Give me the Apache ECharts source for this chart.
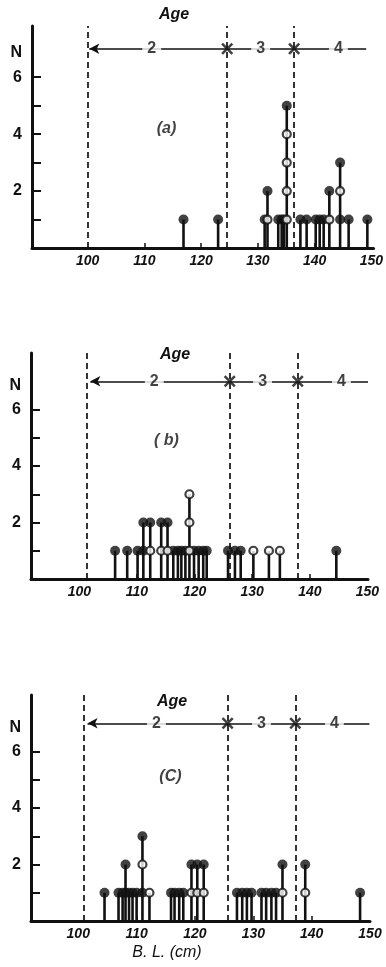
<!DOCTYPE html>
<html>
<head>
<meta charset="utf-8">
<script src="https://cdn.jsdelivr.net/npm/echarts@6/dist/echarts.min.js"></script>
<style>
  html, body { margin: 0; padding: 0; background: #fff; }
  #chart { width: 386px; height: 967px; }
</style>
</head>
<body>
<div id="chart"></div>
<script>
// body length (cm) of each stem; marks run bottom -> top, f = filled, o = open
const aPos = [116.9, 123.0, 131.2, 131.7, 133.6, 134.2, 134.6, 135.1, 137.5, 138.6, 140.2, 140.9, 141.6, 142.6, 144.5, 146.0, 149.3]
const aMarks = ['f', 'f', 'f', 'of', 'f', 'f', 'f', 'oooof', 'f', 'f', 'f', 'f', 'f', 'of', 'fof', 'f', 'f']

const bPos = [106.2, 108.3, 110.1, 111.1, 112.3, 114.2, 115.3, 116.3, 117.1, 117.7, 118.4, 119.1, 119.9, 120.7, 121.5, 122.1, 125.8, 127.0, 128.0, 130.2, 132.9, 134.8, 144.6]
const bMarks = ['f', 'f', 'f', 'ff', 'of', 'of', 'of', 'f', 'f', 'f', 'f', 'ooo', 'f', 'f', 'f', 'f', 'f', 'f', 'f', 'o', 'o', 'o', 'f']

const cPos = [104.5, 106.9, 107.6, 108.1, 108.7, 109.3, 110.0, 111.0, 112.2, 115.9, 116.5, 117.3, 118.0, 119.4, 120.4, 121.5, 127.2, 128.1, 128.9, 129.7, 131.4, 132.2, 133.1, 133.9, 135.0, 138.9, 148.3]
const cMarks = ['f', 'f', 'f', 'ff', 'f', 'f', 'f', 'fof', 'o', 'f', 'f', 'f', 'f', 'of', 'of', 'of', 'f', 'f', 'f', 'f', 'f', 'f', 'f', 'f', 'of', 'of', 'f']

// age boundaries (dashed lines), age line ends, age class labels
const aBounds = [100, 124.6, 136.4]
const bBounds = [101.2, 126.1, 137.9]
const cBounds = [101.0, 125.6, 137.2]
const aAgeEnds = [100.3, 149.1]
const bAgeEnds = [101.9, 150.1]
const cAgeEnds = [101.6, 149.9]
const ageClasses = ['2', '3', '4']
const aAgeAt = [111.3, 130.5, 144.2]
const bAgeAt = [113.0, 131.8, 145.5]
const cAgeAt = [113.4, 131.4, 143.9]

const xTickLabels = [100, 110, 120, 130, 140, 150]
const yTickLabels = [2, 4, 6]
const ageY = 7
const nY = 6.85

const ink = '#111'
const font = 'Liberation Sans'

const panels = [
  { pos: aPos, marks: aMarks, bounds: aBounds, ends: aAgeEnds, ageAt: aAgeAt, tag: '(a)', tagAt: [113.9, 4.2],
    grid: { left: 32, top: 26, width: 345, height: 222 }, xMin: 90.2, xMax: 150.4, yMax: 7.8 },
  { pos: bPos, marks: bMarks, bounds: bBounds, ends: bAgeEnds, ageAt: bAgeAt, tag: '( b)', tagAt: [115.1, 4.9],
    grid: { left: 31, top: 353, width: 337, height: 226 }, xMin: 91.6, xMax: 150.1, yMax: 8 },
  { pos: cPos, marks: cMarks, bounds: cBounds, ends: cAgeEnds, ageAt: cAgeAt, tag: '(C)', tagAt: [115.8, 5.1],
    grid: { left: 31, top: 695, width: 339, height: 226 }, xMin: 91.9, xMax: 150.0, yMax: 8 },
]

const cross = 'path://M0,1.5L1.5,0L5,3.5L8.5,0L10,1.5L6.5,5L10,8.5L8.5,10L5,6.5L1.5,10L0,8.5L3.5,5Z'

const grids = []
const xAxes = []
const yAxes = []
const series = []

panels.forEach((p, i) => {
  grids.push(p.grid)
  xAxes.push({
    type: 'value', gridIndex: i, min: p.xMin, max: p.xMax,
    splitLine: { show: false },
    axisLine: { lineStyle: { color: ink, width: 3 } },
    axisTick: { inside: true, length: 5, customValues: [110, 120, 130, 140], lineStyle: { color: ink, width: 1.5 } },
    axisLabel: { customValues: xTickLabels, color: ink, fontFamily: font, fontWeight: 'bold', fontStyle: 'italic', fontSize: 14, margin: 6 },
  })
  yAxes.push({
    type: 'value', gridIndex: i, min: 0, max: p.yMax,
    splitLine: { show: false },
    axisLine: { lineStyle: { color: ink, width: 3 } },
    axisTick: { inside: true, length: 9, customValues: [1, 2, 3, 4, 5, 6], lineStyle: { color: ink, width: 2 } },
    axisLabel: {
      customValues: yTickLabels.concat([nY]),
      formatter: v => (v === nY ? 'N' : String(v)),
      color: ink, fontFamily: font, fontWeight: 'bold', fontSize: 16, margin: 10,
    },
  })

  const filled = []
  const open = []
  p.pos.forEach((x, j) => {
    p.marks[j].split('').forEach((m, k) => {
      if (m === 'f') filled.push([x, k + 1])
      else open.push([x, k + 1])
    })
  })

  series.push({
    type: 'bar', xAxisIndex: i, yAxisIndex: i, barWidth: 2.6, silent: true,
    itemStyle: { color: ink },
    data: p.pos.map((x, j) => [x, p.marks[j].length]),
    markLine: {
      silent: true, symbol: ['none', 'none'], label: { show: false },
      lineStyle: { color: ink, width: 1.6, type: 'solid' },
      data: p.bounds.map(b => ({ xAxis: b, lineStyle: { type: [6, 4], width: 1.7 } })).concat([
        [{ coord: [p.ends[0], ageY], symbol: 'arrow', symbolSize: [8, 10] }, { coord: [p.ends[1], ageY], symbol: 'none' }],
      ]),
    },
    z: 2,
  })
  series.push({
    type: 'scatter', xAxisIndex: i, yAxisIndex: i, symbolSize: 10, silent: true,
    itemStyle: { color: ink }, data: filled, z: 3,
  })
  series.push({
    type: 'scatter', xAxisIndex: i, yAxisIndex: i, symbolSize: 8, silent: true,
    itemStyle: { color: '#fff', borderColor: ink, borderWidth: 2.2 }, data: open, z: 4,
  })
  series.push({
    type: 'scatter', xAxisIndex: i, yAxisIndex: i, symbol: cross, symbolSize: 12, silent: true,
    itemStyle: { color: ink }, data: p.bounds.slice(1).map(b => [b, ageY]), z: 5,
  })
  series.push({
    type: 'scatter', xAxisIndex: i, yAxisIndex: i, symbolSize: 0, silent: true, clip: false,
    label: {
      show: true, position: 'inside', formatter: d => d.name, color: ink, backgroundColor: '#fff',
      padding: [0, 5], fontFamily: font, fontWeight: 'bold', fontSize: 16,
    },
    data: ageClasses.map((c, k) => ({ name: c, value: [p.ageAt[k], ageY] })), z: 6,
  })
  series.push({
    type: 'scatter', xAxisIndex: i, yAxisIndex: i, symbolSize: 0, silent: true,
    label: { show: true, position: 'inside', formatter: d => d.name, color: ink, fontFamily: font, fontWeight: 'bold', fontStyle: 'italic', fontSize: 16 },
    data: [{ name: p.tag, value: p.tagAt }], z: 6,
  })
})

const option = {
  backgroundColor: '#fff',
  animation: false,
  grid: grids,
  xAxis: xAxes,
  yAxis: yAxes,
  series: series,
  graphic: [
    { type: 'text', x: 174, y: 15, style: { text: 'Age', fill: ink, font: 'italic bold 16px Liberation Sans', align: 'center', verticalAlign: 'middle' } },
    { type: 'text', x: 175, y: 355, style: { text: 'Age', fill: ink, font: 'italic bold 16px Liberation Sans', align: 'center', verticalAlign: 'middle' } },
    { type: 'text', x: 172, y: 702, style: { text: 'Age', fill: ink, font: 'italic bold 16px Liberation Sans', align: 'center', verticalAlign: 'middle' } },
    { type: 'text', x: 167, y: 953, style: { text: 'B. L. (cm)', fill: ink, font: 'italic 16px Liberation Sans', align: 'center', verticalAlign: 'middle' } },
  ],
}

const myChart = echarts.init(document.getElementById('chart'))
myChart.setOption(option)
</script>
</body>
</html>
